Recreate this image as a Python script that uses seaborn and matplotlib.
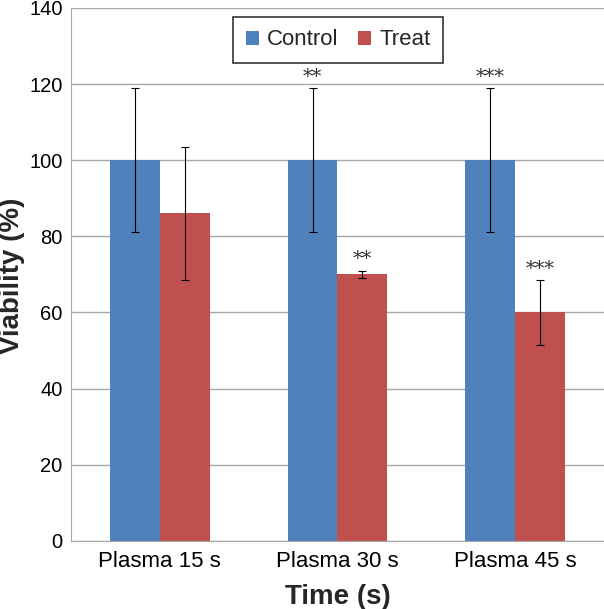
import pandas as pd
import seaborn as sns
import matplotlib.pyplot as plt
import numpy as np

#################### Data ####################

times = ['Plasma 15 s', 'Plasma 30 s', 'Plasma 45 s']
groups = ['Control', 'Treat']
control_mean = [100, 100, 100]
control_err = [19, 19, 19]
treat_mean = [86, 70, 60]
treat_err = [17.5, 1, 8.5]
control_marks = ['', '**', '***']
treat_marks = ['', '**', '***']

df = pd.DataFrame({
    'time': times * 2,
    'group': [groups[0]] * 3 + [groups[1]] * 3,
    'viability': control_mean + treat_mean,
    'err': control_err + treat_err,
    'mark': control_marks + treat_marks,
})

#################### Plot ####################

sns.set_style('white')
plt.rcParams['font.family'] = ['Liberation Sans', 'DejaVu Sans']

fig = plt.figure(figsize=(6.04, 6.09), dpi=100)
ax = fig.add_axes([0.1175, 0.112, 0.8825, 0.875])

sns.barplot(data=df, x='time', y='viability', hue='group', order=times, hue_order=groups,
            palette=['#4F81BD', '#C0504D'], width=0.56, saturation=1, errorbar=None,
            linewidth=0, ax=ax, zorder=2)

# error bars and significance marks at each bar centre
for container, g in zip(ax.containers, groups):
    sub = df[df['group'] == g].set_index('time').loc[times]
    for bar, (_, row) in zip(container, sub.iterrows()):
        xc = bar.get_x() + bar.get_width() / 2
        ax.errorbar(xc, row['viability'], yerr=row['err'], fmt='none', ecolor='black',
                    elinewidth=0.8, capsize=3, capthick=0.8, zorder=3)
        if row['mark']:
            ax.text(xc, row['viability'] + row['err'] + 0.6, row['mark'], ha='center', va='bottom',
                    fontsize=14, color='#333333', family='DejaVu Serif')

ax.set_ylim(0, 140)
ax.set_yticks(np.arange(0, 141, 20))
ax.set_xlim(-0.5, 2.5)
ax.set_xticks([-0.5, 0.5, 1.5, 2.5], minor=True)
ax.yaxis.grid(True, color='#A6A6A6', linewidth=1)
ax.set_axisbelow(True)
for s in ['top', 'right']:
    ax.spines[s].set_visible(False)
ax.spines['left'].set_color('#A6A6A6')
ax.spines['bottom'].set_color('#A6A6A6')
ax.tick_params(axis='x', which='major', labelsize=16, colors='black', length=0, pad=7)
ax.tick_params(axis='x', which='minor', length=4, color='#A6A6A6', width=1)
ax.tick_params(axis='y', labelsize=14.5, colors='black', length=3, color='#A6A6A6', pad=3)

ax.set_xlabel('Time (s)', fontsize=20, fontweight='bold', labelpad=9)
ax.set_ylabel('Viability (%)', fontsize=20, fontweight='bold')
ax.yaxis.set_label_coords(-0.087, 0.497)

leg = ax.legend(loc='center', bbox_to_anchor=(0.501, 0.94), ncol=2, fontsize=16,
                frameon=True, fancybox=False, edgecolor='black', handlelength=0.6,
                handleheight=0.6, handletextpad=0.35, columnspacing=0.9, borderpad=0.55)
leg.get_frame().set_linewidth(1.2)

plt.savefig('out.png', dpi=100)
